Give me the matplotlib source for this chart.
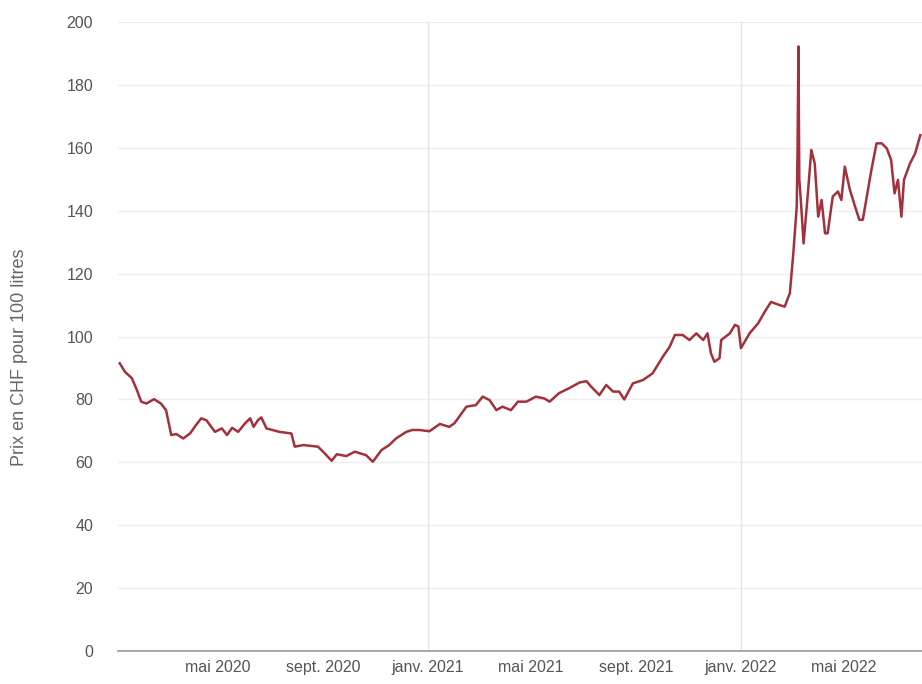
import matplotlib
matplotlib.use("Agg")
import matplotlib.pyplot as plt
import matplotlib.dates as mdates
import pandas as pd

plt.rcParams["font.family"] = ["Liberation Sans", "DejaVu Sans"]

# prix du mazout, CHF pour 100 litres
dates = [
    "2020-01-08", "2020-01-14", "2020-01-22", "2020-01-28", "2020-02-02", "2020-02-08",
    "2020-02-17", "2020-02-25", "2020-03-02", "2020-03-08", "2020-03-14", "2020-03-22",
    "2020-03-30", "2020-04-06", "2020-04-12", "2020-04-18", "2020-04-28", "2020-05-06",
    "2020-05-12", "2020-05-18", "2020-05-25", "2020-06-02", "2020-06-08", "2020-06-12",
    "2020-06-17", "2020-06-21", "2020-06-27", "2020-07-12", "2020-07-26", "2020-07-30",
    "2020-08-09", "2020-08-26", "2020-09-01", "2020-09-11", "2020-09-17", "2020-09-28",
    "2020-10-08", "2020-10-21", "2020-10-29", "2020-11-08", "2020-11-17", "2020-11-25",
    "2020-12-07", "2020-12-14", "2020-12-22", "2021-01-03", "2021-01-15", "2021-01-26",
    "2021-02-01", "2021-02-15", "2021-02-26", "2021-03-06", "2021-03-14", "2021-03-22",
    "2021-03-29", "2021-04-08", "2021-04-16", "2021-04-26", "2021-05-07", "2021-05-17",
    "2021-05-23", "2021-06-03", "2021-06-15", "2021-06-27", "2021-07-05", "2021-07-10",
    "2021-07-20", "2021-07-28", "2021-08-05", "2021-08-12", "2021-08-18", "2021-08-28",
    "2021-09-09", "2021-09-20", "2021-10-02", "2021-10-10", "2021-10-16", "2021-10-25",
    "2021-11-02", "2021-11-10", "2021-11-18", "2021-11-23", "2021-11-27", "2021-12-01",
    "2021-12-07", "2021-12-09", "2021-12-19", "2021-12-25", "2021-12-29", "2022-01-01",
    "2022-01-11", "2022-01-21", "2022-01-29", "2022-02-05", "2022-02-15", "2022-02-21",
    "2022-02-27", "2022-03-03", "2022-03-07", "2022-03-08", "2022-03-09", "2022-03-10",
    "2022-03-12", "2022-03-15", "2022-03-20", "2022-03-24", "2022-03-28", "2022-04-01",
    "2022-04-05", "2022-04-09", "2022-04-12", "2022-04-18", "2022-04-24", "2022-04-28",
    "2022-05-02", "2022-05-08", "2022-05-14", "2022-05-19", "2022-05-23", "2022-05-27",
    "2022-06-02", "2022-06-08", "2022-06-14", "2022-06-20", "2022-06-25", "2022-06-29",
    "2022-07-03", "2022-07-07", "2022-07-10", "2022-07-17", "2022-07-23", "2022-07-29",
]
prix = [
    91.5, 88.8, 86.8, 83.0, 79.3, 78.7,
    80.1, 78.7, 76.6, 68.7, 69.0, 67.6,
    69.2, 71.9, 74.0, 73.4, 69.7, 70.8,
    68.7, 71.0, 69.7, 72.4, 74.0, 71.3,
    73.4, 74.3, 70.8, 69.7, 69.2, 65.0,
    65.5, 65.0, 63.4, 60.5, 62.6, 62.0,
    63.4, 62.3, 60.2, 63.9, 65.5, 67.6,
    69.7, 70.3, 70.3, 69.9, 72.2, 71.3,
    72.4, 77.7, 78.2, 80.9, 79.8, 76.6,
    77.7, 76.6, 79.3, 79.3, 80.9, 80.3,
    79.3, 82.0, 83.6, 85.4, 85.8, 84.2,
    81.4, 84.6, 82.5, 82.5, 80.0, 85.1,
    86.2, 88.3, 93.6, 96.8, 100.5, 100.5,
    98.9, 101.0, 98.9, 101.0, 94.7, 92.0,
    93.1, 98.9, 101.0, 103.7, 103.2, 96.3,
    101.0, 104.2, 108.0, 111.0, 110.0, 109.5,
    113.8, 126.4, 141.3, 160.3, 192.2, 150.0,
    142.4, 129.6, 145.5, 159.3, 155.0, 138.1,
    143.4, 132.8, 132.8, 144.5, 146.1, 143.4,
    154.0, 146.6, 141.3, 137.1, 137.1, 143.4,
    152.9, 161.4, 161.4, 159.8, 156.1, 145.5,
    149.8, 138.1, 149.8, 155.0, 158.2, 164.0,
]

mois_fr = {1: "janv.", 5: "mai", 9: "sept."}
y_ticks = list(range(0, 201, 20))
annees = ["2021-01-01", "2022-01-01"]

x = pd.to_datetime(dates)

fig = plt.figure(figsize=(9.22, 6.84), dpi=100)
ax = fig.add_axes([0.128, 0.048, 0.872, 0.920])

ax.plot(x, prix, color="#a3303b", linewidth=1.8, zorder=3)

ax.set_xlim(pd.Timestamp("2020-01-06"), pd.Timestamp("2022-07-31"))
ax.set_ylim(0, 200)
ax.set_yticks(y_ticks)

ax.xaxis.set_major_locator(mdates.MonthLocator(bymonth=[1, 5, 9]))
ax.xaxis.set_major_formatter(
    plt.FuncFormatter(lambda v, p: f"{mois_fr[mdates.num2date(v).month]} {mdates.num2date(v).year}"))

for s in ["top", "right", "left"]:
    ax.spines[s].set_visible(False)
ax.spines["bottom"].set_color("#999999")
ax.spines["bottom"].set_linewidth(1.2)

ax.grid(axis="y", color="#eeeeee", linewidth=1)
for a in annees:
    ax.axvline(pd.Timestamp(a), color="#e4e4e4", linewidth=1, zorder=1)
ax.set_axisbelow(True)

ax.tick_params(axis="both", which="both", length=0, colors="#555555", labelsize=11.5)
ax.tick_params(axis="y", pad=18)
ax.tick_params(axis="x", pad=6)

ax.set_ylabel("Prix en CHF pour 100 litres", color="#666666", fontsize=13)
ax.yaxis.set_label_coords(-0.112, 0.467)

fig.savefig("out.png", dpi=100)
